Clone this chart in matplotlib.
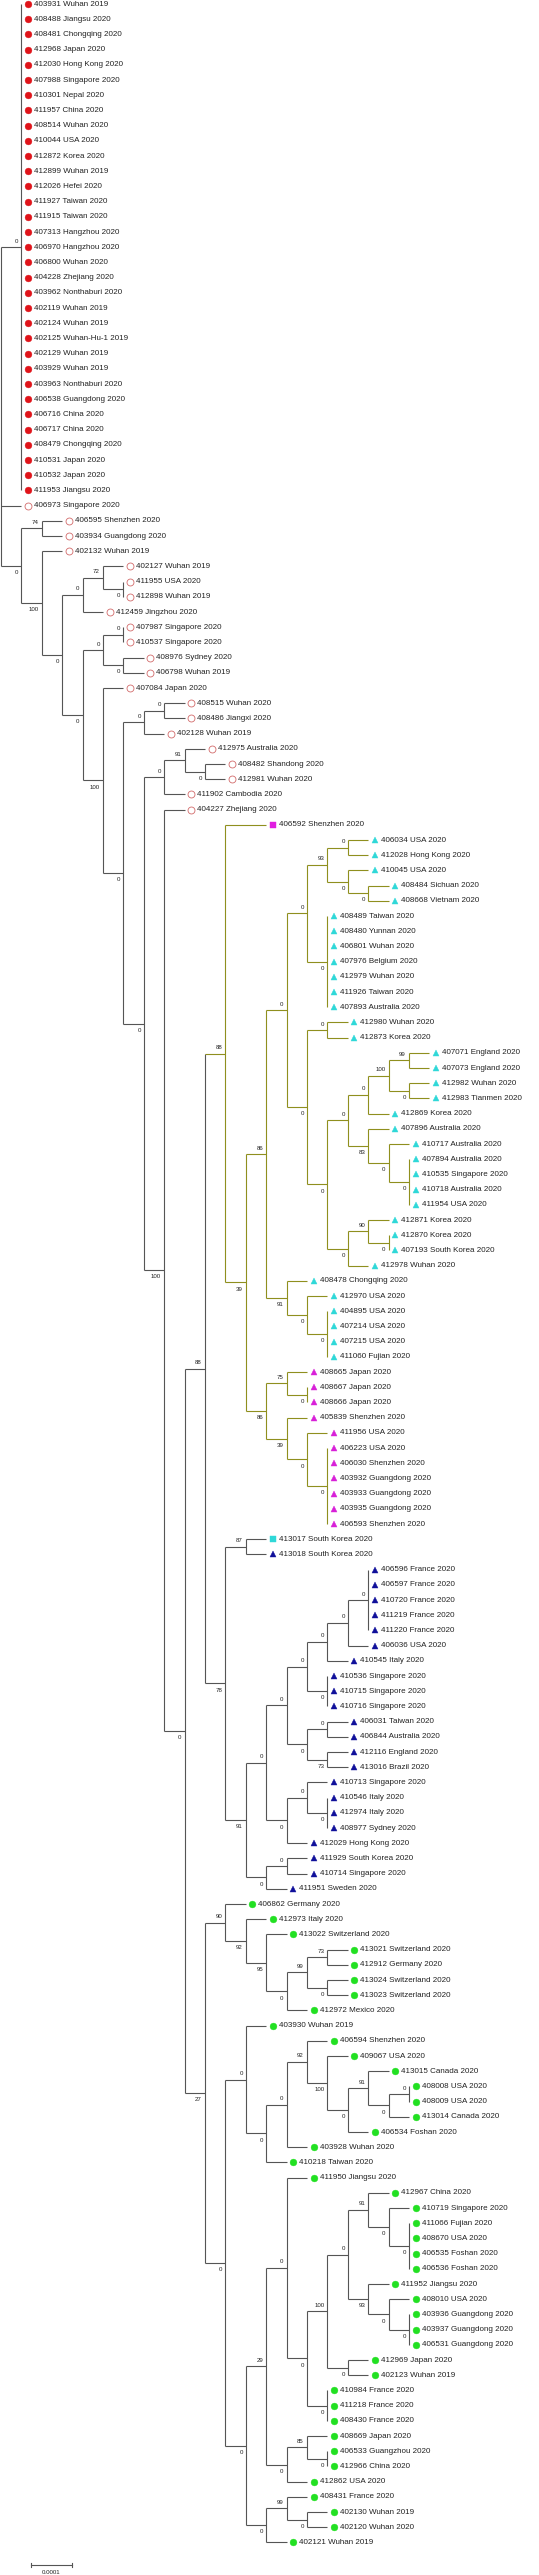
import matplotlib
matplotlib.use('Agg')
import matplotlib.pyplot as plt
from matplotlib.transforms import offset_copy

plt.rcParams['font.family'] = ['Liberation Sans', 'DejaVu Sans']

# --- Dados: folhas (ordem de cima para baixo) ---
LEAF_LABELS = [
    "403931 Wuhan 2019", "408488 Jiangsu 2020", "408481 Chongqing 2020", "412968 Japan 2020",
    "412030 Hong Kong 2020", "407988 Singapore 2020", "410301 Nepal 2020", "411957 China 2020",
    "408514 Wuhan 2020", "410044 USA 2020", "412872 Korea 2020", "412899 Wuhan 2019",
    "412026 Hefei 2020", "411927 Taiwan 2020", "411915 Taiwan 2020", "407313 Hangzhou 2020",
    "406970 Hangzhou 2020", "406800 Wuhan 2020", "404228 Zhejiang 2020", "403962 Nonthaburi 2020",
    "402119 Wuhan 2019", "402124 Wuhan 2019", "402125 Wuhan-Hu-1 2019", "402129 Wuhan 2019",
    "403929 Wuhan 2019", "403963 Nonthaburi 2020", "406538 Guangdong 2020", "406716 China 2020",
    "406717 China 2020", "408479 Chongqing 2020", "410531 Japan 2020", "410532 Japan 2020",
    "411953 Jiangsu 2020",
    "406973 Singapore 2020", "406595 Shenzhen 2020", "403934 Guangdong 2020", "402132 Wuhan 2019",
    "402127 Wuhan 2019", "411955 USA 2020", "412898 Wuhan 2019", "412459 Jingzhou 2020",
    "407987 Singapore 2020", "410537 Singapore 2020", "408976 Sydney 2020", "406798 Wuhan 2019",
    "407084 Japan 2020", "408515 Wuhan 2020", "408486 Jiangxi 2020", "402128 Wuhan 2019",
    "412975 Australia 2020", "408482 Shandong 2020", "412981 Wuhan 2020", "411902 Cambodia 2020",
    "404227 Zhejiang 2020",
    "406592 Shenzhen 2020",
    "406034 USA 2020", "412028 Hong Kong 2020", "410045 USA 2020", "408484 Sichuan 2020",
    "408668 Vietnam 2020", "408489 Taiwan 2020", "408480 Yunnan 2020", "406801 Wuhan 2020",
    "407976 Belgium 2020", "412979 Wuhan 2020", "411926 Taiwan 2020", "407893 Australia 2020",
    "412980 Wuhan 2020", "412873 Korea 2020", "407071 England 2020", "407073 England 2020",
    "412982 Wuhan 2020", "412983 Tianmen 2020", "412869 Korea 2020", "407896 Australia 2020",
    "410717 Australia 2020", "407894 Australia 2020", "410535 Singapore 2020", "410718 Australia 2020",
    "411954 USA 2020", "412871 Korea 2020", "412870 Korea 2020", "407193 South Korea 2020",
    "412978 Wuhan 2020", "408478 Chongqing 2020", "412970 USA 2020", "404895 USA 2020",
    "407214 USA 2020", "407215 USA 2020", "411060 Fujian 2020",
    "408665 Japan 2020", "408667 Japan 2020", "408666 Japan 2020", "405839 Shenzhen 2020",
    "411956 USA 2020", "406223 USA 2020", "406030 Shenzhen 2020", "403932 Guangdong 2020",
    "403933 Guangdong 2020", "403935 Guangdong 2020", "406593 Shenzhen 2020",
    "413017 South Korea 2020",
    "413018 South Korea 2020", "406596 France 2020", "406597 France 2020", "410720 France 2020",
    "411219 France 2020", "411220 France 2020", "406036 USA 2020", "410545 Italy 2020",
    "410536 Singapore 2020", "410715 Singapore 2020", "410716 Singapore 2020", "406031 Taiwan 2020",
    "406844 Australia 2020", "412116 England 2020", "413016 Brazil 2020", "410713 Singapore 2020",
    "410546 Italy 2020", "412974 Italy 2020", "408977 Sydney 2020", "412029 Hong Kong 2020",
    "411929 South Korea 2020", "410714 Singapore 2020", "411951 Sweden 2020",
    "406862 Germany 2020", "412973 Italy 2020", "413022 Switzerland 2020", "413021 Switzerland 2020",
    "412912 Germany 2020", "413024 Switzerland 2020", "413023 Switzerland 2020", "412972 Mexico 2020",
    "403930 Wuhan 2019", "406594 Shenzhen 2020", "409067 USA 2020", "413015 Canada 2020",
    "408008 USA 2020", "408009 USA 2020", "413014 Canada 2020", "406534 Foshan 2020",
    "403928 Wuhan 2020", "410218 Taiwan 2020", "411950 Jiangsu 2020", "412967 China 2020",
    "410719 Singapore 2020", "411066 Fujian 2020", "408670 USA 2020", "406535 Foshan 2020",
    "406536 Foshan 2020", "411952 Jiangsu 2020", "408010 USA 2020", "403936 Guangdong 2020",
    "403937 Guangdong 2020", "406531 Guangdong 2020", "412969 Japan 2020", "402123 Wuhan 2019",
    "410984 France 2020", "411218 France 2020", "408430 France 2020", "408669 Japan 2020",
    "406533 Guangzhou 2020", "412966 China 2020", "412862 USA 2020", "408431 France 2020",
    "402130 Wuhan 2019", "402120 Wuhan 2020", "402121 Wuhan 2019",
]

# grupos de marcadores: (nome, n.º de folhas consecutivas)
GROUP_RUNS = [("red", 33), ("open", 21), ("magsq", 1), ("cyantri", 35),
              ("magtri", 11), ("cyansq", 1), ("navytri", 23), ("green", 43)]

# --- Topologia (Newick; comprimentos em passos de 0.00005 subst./sítio) ---
STEP = 0.00005
RED = ("(403931:0,408488:0,408481:0,412968:0,412030:0,407988:0,410301:0,411957:0,408514:0,"
       "410044:0,412872:0,412899:0,412026:0,411927:0,411915:0,407313:0,406970:0,406800:0,"
       "404228:0,403962:0,402119:0,402124:0,402125:0,402129:0,403929:0,403963:0,406538:0,"
       "406716:0,406717:0,408479:0,410531:0,410532:0,411953:0)0:1")
A_ = "((402127:1,(411955:0,412898:0)0:1)72:1,412459:1)0:1"
C_ = "((407987:0,410537:0)0:1,(408976:1,406798:1)0:1)0:1"
F_ = "((408515:1,408486:1)0:1,402128:1)0:1"
H_ = "((412975:1,(408482:1,412981:1)0:1)91:1,411902:1)0:1"
V_ = "((406034:1,412028:1)0:1,(410045:1,(408484:1,408668:1)0:1)0:1)93:1"
X_ = "(408489:0,408480:0,406801:0,407976:0,412979:0,411926:0,407893:0)0:1"
Y_ = "(412980:1,412873:1)0:1"
AC = "(((407071:1,407073:1)99:1,(412982:1,412983:1)0:1)100:1,412869:1)0:1"
AD = "(407896:1,(410717:1,(407894:0,410535:0,410718:0,411954:0)0:1)0:1)83:1"
AB = "((412871:1,(412870:0,407193:0)0:1)90:1,412978:1)0:1"
S_ = "(408478:1,(412970:1,(404895:0,407214:0,407215:0,411060:0)0:1)0:1)91:1"
Q_ = ("((408665:1,(408667:0,408666:0)0:1)75:1,(405839:1,(411956:1,"
      "(406223:0,406030:0,403932:0,403933:0,403935:0,406593:0)0:1)0:1)39:1)86:1")
P_ = f"((({V_},{X_})0:1,({Y_},(({AC},{AD})0:1,{AB})0:1)0:1)0:1,{S_})86:1"
M_ = f"(406592:2,({P_},{Q_})39:1)88:1"
AK = "(((406596:0,406597:0,410720:0,411219:0,411220:0)0:1,406036:1)0:1,410545:1)0:1"
AL = "(410536:0,410715:0,410716:0)0:1"
AJ = "((406031:1,406844:1)0:1,(412116:1,413016:1)73:1)0:1"
AH = "((410713:1,(410546:0,412974:0,408977:0)0:1)0:1,412029:1)0:1"
AF = "((411929:1,410714:1)0:1,411951:1)0:1"
N_ = f"((413017:1,413018:1)87:1,(((({AK},{AL})0:1,{AJ})0:1,{AH})0:1,{AF})91:1)78:1"
AM = ("(406862:1,(412973:1,(413022:1,(((413021:1,412912:1)73:1,(413024:1,413023:1)0:1)99:1,"
      "412972:1)0:1)95:1)92:1)90:1")
AO = ("(403930:1,(((406594:1,(409067:1,((413015:1,((408008:0,408009:0)0:1,413014:1)0:1)91:1,"
      "406534:1)0:1)100:1)92:1,403928:1)0:1,410218:1)0:1)0:1")
AW = ("((((412967:1,(410719:1,(411066:0,408670:0,406535:0,406536:0)0:1)0:1)91:1,"
      "(411952:1,(408010:1,(403936:0,403937:0,406531:0)0:1)0:1)93:1)0:1,"
      "(412969:1,402123:1)0:1)100:1,(410984:0,411218:0,408430:0)0:1)0:1")
AV = "((408669:1,(406533:0,412966:0)0:1)85:1,412862:1)0:1"
AT = "((408431:1,(402130:1,402120:1)0:1)99:1,402121:1)0:1"
AP = f"(((411950:1,{AW})0:1,{AV})29:1,{AT})0:1"
L_ = f"({AM},({AO},{AP})0:1)27:1"
I_ = f"(404227:1,(({M_},{N_})88:1,{L_})0:1)100:1"
D_ = f"(407084:1,({F_},({H_},{I_})0:1)0:1)100:1"
N1 = f"((406595:1,403934:1)74:1,(402132:1,({A_},({C_},{D_})0:1)0:1)100:1)0:1"
NEWICK = f"({RED},406973:1,{N1});"

OLIVE_CLADE = ("406592", "406593")   # subárvore destacada
SCALE_LEN = 0.0001


def parse_newick(s):
    pos = 0

    def node():
        nonlocal pos
        children = []
        if s[pos] == '(':
            pos += 1
            while True:
                children.append(node())
                if s[pos] == ',':
                    pos += 1
                    continue
                pos += 1  # ')'
                break
        start = pos
        while s[pos] not in ',():;':
            pos += 1
        name = s[start:pos]
        length = 0.0
        if s[pos] == ':':
            pos += 1
            start = pos
            while s[pos] not in ',();':
                pos += 1
            length = float(s[start:pos])
        return {'name': name, 'len': length, 'children': children}

    return node()


tree = parse_newick(NEWICK)

# --- Layout ---
leaf_order = []


def layout(nd, depth):
    nd['x'] = depth * STEP
    if not nd['children']:
        nd['y'] = len(leaf_order)
        leaf_order.append(nd['name'])
        return
    for c in nd['children']:
        layout(c, depth + c['len'])
    nd['y'] = (nd['children'][0]['y'] + nd['children'][-1]['y']) / 2


layout(tree, 0)
assert leaf_order == [lab.split()[0] for lab in LEAF_LABELS], "ordem das folhas"

groups = []
for g, n in GROUP_RUNS:
    groups += [g] * n


def leaves_of(nd):
    if not nd['children']:
        return {nd['name']}
    out = set()
    for c in nd['children']:
        out |= leaves_of(c)
    return out


def find_mrca(nd, names):
    for c in nd['children']:
        if set(names) <= leaves_of(c):
            return find_mrca(c, names)
    return nd


olive_node = find_mrca(tree, OLIVE_CLADE)

# --- Figura ---
W, H = 539, 2575
fig = plt.figure(figsize=(W / 100, H / 100), dpi=100)
ax = fig.add_axes([0, 0, 1, 1])
px_step = 20.4
ax.set_xlim(-1 / px_step * STEP, (W - 1) / px_step * STEP)
ax.set_ylim((H - 4) / 15.2, -4 / 15.2)
ax.axis('off')

GRAY = '#555555'
OLIVE = '#8f8f1e'
LW = 0.8
BOOT_FS = 4.4
LEAF_FS = 5.8


def draw(nd, color, parent=None):
    if nd is olive_node:
        color = OLIVE
    if nd['children']:
        ys = [c['y'] for c in nd['children']]
        ax.plot([nd['x'], nd['x']], [min(ys), max(ys)], color=color, lw=LW,
                solid_capstyle='butt')
        for c in nd['children']:
            ccol = OLIVE if (c is olive_node or color == OLIVE) else color
            if c['x'] > nd['x']:
                ax.plot([nd['x'], c['x']], [c['y'], c['y']], color=ccol, lw=LW,
                        solid_capstyle='butt')
            draw(c, color, nd)
        if parent is not None:
            dy = 4.3 if nd['y'] < parent['y'] else -4.8
            ax.annotate(nd['name'], (nd['x'], nd['y']), xytext=(-2.2, dy),
                        textcoords='offset points', ha='right', va='center',
                        fontsize=BOOT_FS, color='#222222')


draw(tree, GRAY)

# --- Marcadores e nomes ---
STYLES = {
    'red':     dict(marker='o', ms=4.9, mfc='#e0141a', mec='#e0141a', mew=0.3),
    'open':    dict(marker='o', ms=5.0, mfc='white', mec='#d26a6a', mew=0.6),
    'magsq':   dict(marker='s', ms=4.4, mfc='#e01ee0', mec='#e01ee0', mew=0.3),
    'cyantri': dict(marker='^', ms=4.6, mfc='#2fd8d8', mec='#2fd8d8', mew=0.3),
    'magtri':  dict(marker='^', ms=4.6, mfc='#d820d8', mec='#d820d8', mew=0.3),
    'cyansq':  dict(marker='s', ms=4.4, mfc='#2fd8d8', mec='#2fd8d8', mew=0.3),
    'navytri': dict(marker='^', ms=4.6, mfc='#10109a', mec='#10109a', mew=0.3),
    'green':   dict(marker='o', ms=4.9, mfc='#22e022', mec='#22e022', mew=0.3),
}
mark_tr = offset_copy(ax.transData, fig=fig, x=6.5 * 0.72, y=0, units='points')

leaf_nodes = []


def collect(nd):
    if not nd['children']:
        leaf_nodes.append(nd)
    for c in nd['children']:
        collect(c)


collect(tree)
for i, nd in enumerate(leaf_nodes):
    st = STYLES[groups[i]]
    ax.plot([nd['x']], [nd['y']], linestyle='none', transform=mark_tr, **st)
    ax.annotate(LEAF_LABELS[i], (nd['x'], nd['y']), xytext=(12.5 * 0.72, 0),
                textcoords='offset points', ha='left', va='center',
                fontsize=LEAF_FS, color='#222222')

# --- Barra de escala ---
sx0 = (30.7 - 1) / px_step * STEP
sy = (2565 - 4) / 15.2
ax.plot([sx0, sx0 + SCALE_LEN], [sy, sy], color=GRAY, lw=LW)
for xx in (sx0, sx0 + SCALE_LEN):
    ax.plot([xx, xx], [sy - 0.15, sy + 0.15], color=GRAY, lw=LW)
ax.annotate(f"{SCALE_LEN:.4f}", (sx0 + SCALE_LEN / 2, sy), xytext=(0, -5.2),
            textcoords='offset points', ha='center', va='center',
            fontsize=BOOT_FS, color='#222222')

fig.savefig("out.png", dpi=100)
